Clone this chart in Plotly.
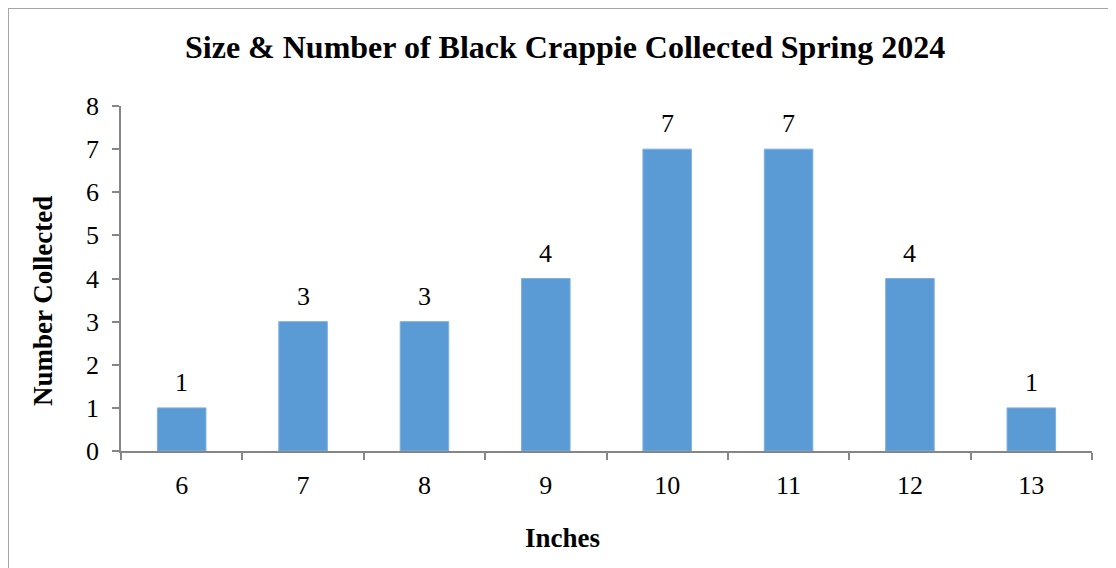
import plotly.graph_objects as go

categories = ["6", "7", "8", "9", "10", "11", "12", "13"]
counts = [1, 3, 3, 4, 7, 7, 4, 1]
y_ticks = [0, 1, 2, 3, 4, 5, 6, 7, 8]

title_text = "Size & Number of Black Crappie Collected Spring 2024"
x_title = "Inches"
y_title = "Number Collected"

W, H = 1116, 568
OFF = 8  # page body margin
ML, MR, MT, MB = 121 - OFF, 32, 106 - OFF, H - (451 - OFF)
PW, PH = W - ML - MR, H - MT - MB

def px_x(p):
    return (p - OFF - ML) / PW

def px_y(p):
    return (H - MB - (p - OFF)) / PH

FONT = "Liberation Serif, Times New Roman, serif"
AXIS = "#868686"

fig = go.Figure()
fig.add_trace(go.Bar(
    x=categories, y=counts, width=0.4,
    marker=dict(color="#5B9BD5", line=dict(color="#7FB0DE", width=1)),
    hoverinfo="x+y",
))

annotations = []
for i, (c, v) in enumerate(zip(categories, counts)):
    annotations.append(dict(x=i, y=v, xref="x", yref="y", text=str(v),
                            showarrow=False, yanchor="bottom", yshift=9,
                            font=dict(family=FONT, size=26, color="#000")))
annotations.append(dict(x=px_x(565), y=px_y(47), xref="paper", yref="paper",
                        text="<b>" + title_text + "</b>", showarrow=False,
                        xanchor="center", yanchor="middle",
                        font=dict(family=FONT, size=32, color="#000")))
annotations.append(dict(x=px_x(562), y=px_y(538), xref="paper", yref="paper",
                        text="<b>" + x_title + "</b>", showarrow=False,
                        xanchor="center", yanchor="middle",
                        font=dict(family=FONT, size=27, color="#000")))
annotations.append(dict(x=px_x(43), y=px_y(301), xref="paper", yref="paper",
                        text="<b>" + y_title + "</b>", showarrow=False,
                        textangle=-90, xanchor="center", yanchor="middle",
                        font=dict(family=FONT, size=27, color="#000")))

fig.update_layout(
    width=W, height=H,
    margin=dict(l=ML, r=MR, t=MT, b=MB),
    paper_bgcolor="white", plot_bgcolor="white",
    showlegend=False,
    bargap=0.6,
    font=dict(family=FONT, size=26, color="#000"),
    annotations=annotations,
    shapes=[dict(type="rect", xref="paper", yref="paper",
                 x0=px_x(8), x1=px_x(1140), y0=px_y(600), y1=px_y(8),
                 line=dict(color="#A6A6A6", width=2), layer="below")],
    xaxis=dict(type="category", showgrid=False, showline=True, linecolor=AXIS,
               linewidth=1.5, ticks="outside", tickson="boundaries", ticklen=7,
               tickcolor=AXIS, tickwidth=1.5, tickfont=dict(size=26),
               range=[-0.5, 7.5], ticklabelstandoff=10),
    yaxis=dict(range=[0, 8], tickvals=y_ticks, showgrid=False, showline=True,
               linecolor=AXIS, linewidth=1.5, ticks="outside", ticklen=7,
               tickcolor=AXIS, tickwidth=1.5, tickfont=dict(size=26),
               zeroline=False, ticklabelstandoff=8),
)

fig.write_html("out.html")
